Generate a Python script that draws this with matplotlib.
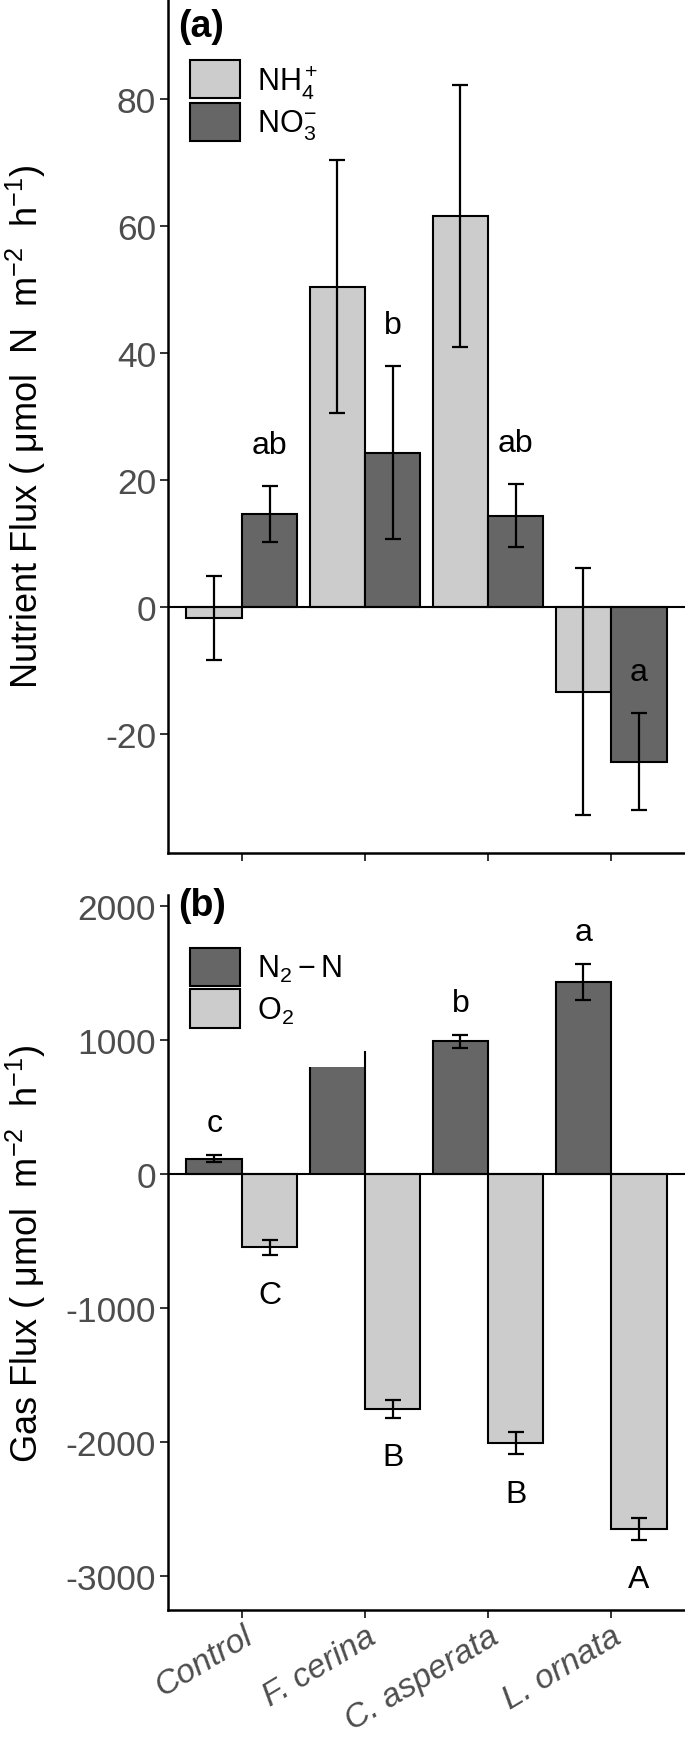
import numpy as np
import matplotlib
matplotlib.use("Agg")
import matplotlib.pyplot as plt
from matplotlib.patches import Patch

# ---------------- data ----------------
categories = ['Control', 'F. cerina', 'C. asperata', 'L. ornata']

nh4_mean = [-1.7, 50.4, 61.5, -13.3]
nh4_se = [6.6, 19.9, 20.6, 19.4]
no3_mean = [14.7, 24.3, 14.4, -24.3]
no3_se = [4.4, 13.6, 5.0, 7.7]
no3_letters = ['ab', 'b', 'ab', 'a']

n2_mean = [113, 917, 990, 1432]
n2_fill = [113, 797, 990, 1432]       # visible filled height (F. cerina bar is clipped in the original)
n2_se = [27, np.nan, 50, 135]
n2_letters = ['c', '', 'b', 'a']

o2_mean = [-548, -1754, -2010, -2648]
o2_se = [56, 65, 81, 80]
o2_letters = ['C', 'B', 'B', 'A']

a_ticks = [-20, 0, 20, 40, 60, 80]
b_ticks = [-3000, -2000, -1000, 0, 1000, 2000]

# ---------------- style ----------------
plt.rcParams['font.family'] = ['Liberation Sans', 'DejaVu Sans']
plt.rcParams['mathtext.fontset'] = 'custom'
plt.rcParams['mathtext.rm'] = 'Liberation Sans'
plt.rcParams['mathtext.it'] = 'Liberation Sans:italic'
plt.rcParams['mathtext.bf'] = 'Liberation Sans:bold'
plt.rcParams['axes.unicode_minus'] = False

LIGHT = '#CCCCCC'
DARK = '#666666'
W = 685
H = 1740
fig = plt.figure(figsize=(W / 100, H / 100), dpi=100)

left = 168 / W
axa = fig.add_axes([left, 1 - 854 / H, 1 - left, 854 / H])
axb = fig.add_axes([left, 1 - 1611 / H, 1 - left, (1611 - 896) / H])

x = np.arange(1, len(categories) + 1)
bw = 0.45
cap = 6
elw = 1.6
edge_lw = 1.5
TICK_FS = 25.5
LET_FS = 23
YLAB_FS = 26


def style_axes(ax, ylim, yticks):
    ax.set_xlim(0.4, 4.6)
    ax.set_ylim(*ylim)
    ax.set_yticks(yticks)
    ax.set_xticks(x)
    for s in ['top', 'right']:
        ax.spines[s].set_visible(False)
    for s in ['left', 'bottom']:
        ax.spines[s].set_linewidth(1.8)
        ax.spines[s].set_color('black')
    ax.tick_params(axis='both', direction='out', length=5.5, width=1.4,
                   color='#333333', labelcolor='#4D4D4D', labelsize=TICK_FS, pad=3)
    ax.axhline(0, color='black', lw=1.5, zorder=4)


# ---------------- panel (a) ----------------
style_axes(axa, (-38.7, 95.7), a_ticks)
axa.bar(x - bw / 2, nh4_mean, width=bw, color=LIGHT, edgecolor='black', lw=edge_lw, zorder=2)
axa.bar(x + bw / 2, no3_mean, width=bw, color=DARK, edgecolor='black', lw=edge_lw, zorder=2)
axa.errorbar(x - bw / 2, nh4_mean, yerr=nh4_se, fmt='none', ecolor='black',
             elinewidth=elw, capsize=cap, capthick=elw, zorder=5)
axa.errorbar(x + bw / 2, no3_mean, yerr=no3_se, fmt='none', ecolor='black',
             elinewidth=elw, capsize=cap, capthick=elw, zorder=5)
for xi, m, s, lab in zip(x, no3_mean, no3_se, no3_letters):
    axa.text(xi + bw / 2, m + s + 5.2, lab, ha='center', va='baseline',
             fontsize=LET_FS, color='black')
axa.set_xticklabels([])
axa.set_ylabel('Nutrient Flux ( μmol  N  m$^{-2}$  h$^{-1}$)', fontsize=YLAB_FS, color='black')
axa.yaxis.set_label_coords(-0.232, 0.5)

leg_kw = dict(loc='upper left', bbox_transform=fig.transFigure, frameon=False, fontsize=22,
              handlelength=1.65, handleheight=1.55, handletextpad=0.55,
              labelspacing=0.1, borderpad=0, borderaxespad=0)
axa.legend(handles=[Patch(facecolor=LIGHT, edgecolor='black', lw=1.5),
                    Patch(facecolor=DARK, edgecolor='black', lw=1.5)],
           labels=['NH$_4^+$', 'NO$_3^{-}$'],
           bbox_to_anchor=(190 / W, 1 - 61 / H), **leg_kw)
fig.text(178 / W, 1 - 9 / H, '(a)', fontsize=27, fontweight='bold', ha='left', va='top')

# ---------------- panel (b) ----------------
style_axes(axb, (-3254, 2082), b_ticks)
# N2 bars: fill, then outline (F. cerina bar is clipped at its top in the original)
axb.bar(x - bw / 2, n2_fill, width=bw, color=DARK, edgecolor='none', zorder=2)
for xi, full, vis in zip(x - bw / 2, n2_mean, n2_fill):
    x0, x1 = xi - bw / 2, xi + bw / 2
    if full == vis:
        axb.bar(xi, full, width=bw, fill=False, edgecolor='black', lw=edge_lw, zorder=3)
    else:
        axb.plot([x0, x0], [0, vis], color='black', lw=edge_lw, zorder=3, solid_capstyle='butt')
        axb.plot([x1, x1], [0, full], color='black', lw=edge_lw, zorder=3, solid_capstyle='butt')
axb.bar(x + bw / 2, o2_mean, width=bw, color=LIGHT, edgecolor='black', lw=edge_lw, zorder=2)
axb.errorbar(x - bw / 2, n2_mean, yerr=n2_se, fmt='none', ecolor='black',
             elinewidth=elw, capsize=cap, capthick=elw, zorder=5)
axb.errorbar(x + bw / 2, o2_mean, yerr=o2_se, fmt='none', ecolor='black',
             elinewidth=elw, capsize=cap, capthick=elw, zorder=5)
for xi, m, s, lab in zip(x, n2_mean, n2_se, n2_letters):
    if lab:
        axb.text(xi - bw / 2, m + s + 180, lab, ha='center', va='baseline',
                 fontsize=LET_FS, color='black')
for xi, m, s, lab in zip(x, o2_mean, o2_se, o2_letters):
    axb.text(xi + bw / 2, m - s - 356, lab, ha='center', va='baseline',
             fontsize=LET_FS, color='black')
axb.set_xticklabels(categories, rotation=31, ha='right', rotation_mode='anchor',
                    fontstyle='italic', fontsize=24)
axb.tick_params(axis='x', pad=2)
axb.set_ylabel('Gas Flux ( μmol  m$^{-2}$  h$^{-1}$)', fontsize=YLAB_FS, color='black')
axb.yaxis.set_label_coords(-0.232, 0.5)

axb.legend(handles=[Patch(facecolor=DARK, edgecolor='black', lw=1.5),
                    Patch(facecolor=LIGHT, edgecolor='black', lw=1.5)],
           labels=['N$_2-$N', 'O$_2$'],
           bbox_to_anchor=(190 / W, 1 - 949 / H), **leg_kw)
fig.text(178 / W, 1 - 888 / H, '(b)', fontsize=27, fontweight='bold', ha='left', va='top')

fig.savefig('out.png', dpi=100)
